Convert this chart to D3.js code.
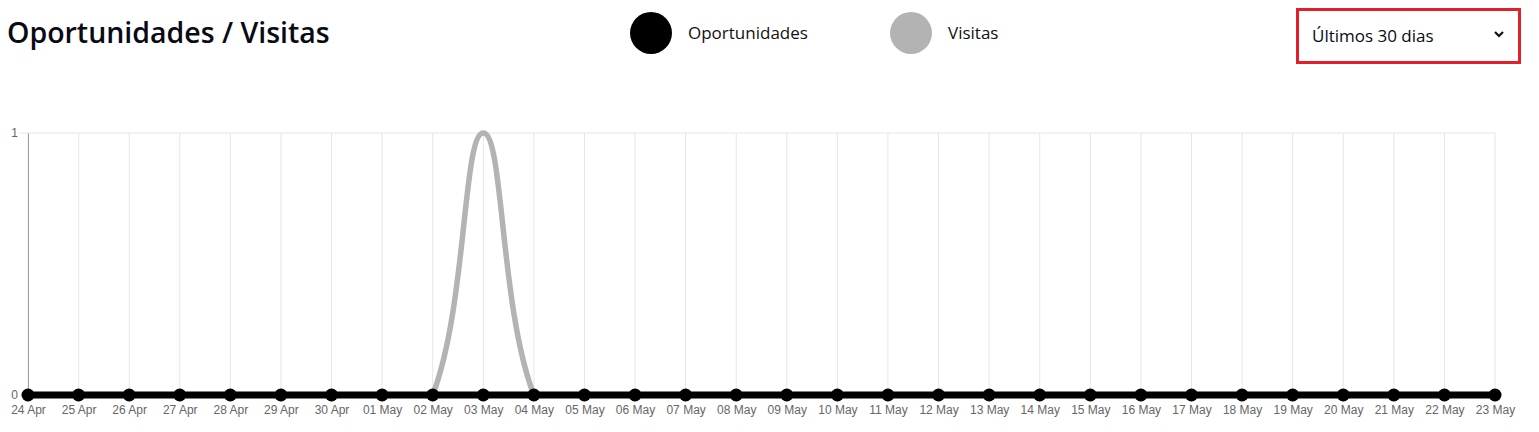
<!DOCTYPE html>
<html><head><meta charset="utf-8">
<script src="https://cdn.jsdelivr.net/npm/d3@7"></script>
<style>
html,body{margin:0;padding:0;background:#fff;}
svg{display:block;}
</style></head>
<body>
<svg id="c" width="1539" height="432"></svg>
<script>
const dates = ["24 Apr","25 Apr","26 Apr","27 Apr","28 Apr","29 Apr","30 Apr","01 May","02 May","03 May","04 May","05 May","06 May","07 May","08 May","09 May","10 May","11 May","12 May","13 May","14 May","15 May","16 May","17 May","18 May","19 May","20 May","21 May","22 May","23 May"];
const oportunidades = [0,0,0,0,0,0,0,0,0,0,0,0,0,0,0,0,0,0,0,0,0,0,0,0,0,0,0,0,0,0];
const visitas =       [0,0,0,0,0,0,0,0,0,1,0,0,0,0,0,0,0,0,0,0,0,0,0,0,0,0,0,0,0,0];
const yTicks = [0, 1];
const seriesNames = ["Oportunidades", "Visitas"];
const seriesColors = ["#000000", "#b3b3b3"];

const svg = d3.select("#c");
const m = {left: 28, right: 1495, top: 133, bottom: 395};

const x = d3.scalePoint().domain(dates).range([m.left, m.right]);
const y = d3.scaleLinear().domain([0, 1]).range([m.bottom, m.top]);

// Chart.js-like spline curve (tension 0.4, control points capped to chart area)
function chartSpline(tension, area) {
  return function(context) {
    let pts;
    return {
      areaStart(){}, areaEnd(){},
      lineStart(){ pts = []; },
      point(px, py){ pts.push({x:+px, y:+py}); },
      lineEnd(){
        const n = pts.length;
        if (!n) return;
        const cps = pts.map((c, i) => {
          const p = pts[i-1] || c, nx = pts[i+1] || c;
          const d01 = Math.hypot(c.x-p.x, c.y-p.y), d12 = Math.hypot(nx.x-c.x, nx.y-c.y);
          let s01 = d01/(d01+d12), s12 = d12/(d01+d12);
          if (isNaN(s01)) s01 = 0; if (isNaN(s12)) s12 = 0;
          const fa = tension*s01, fb = tension*s12;
          const cap = (q) => ({x: Math.max(area.left, Math.min(area.right, q.x)), y: Math.max(area.top, Math.min(area.bottom, q.y))});
          return {
            prev: cap({x: c.x - fa*(nx.x-p.x), y: c.y - fa*(nx.y-p.y)}),
            next: cap({x: c.x + fb*(nx.x-p.x), y: c.y + fb*(nx.y-p.y)})
          };
        });
        context.moveTo(pts[0].x, pts[0].y);
        for (let i = 1; i < n; i++) {
          context.bezierCurveTo(cps[i-1].next.x, cps[i-1].next.y, cps[i].prev.x, cps[i].prev.y, pts[i].x, pts[i].y);
        }
      }
    };
  };
}
const curve = chartSpline(0.4, m);

// Title
svg.append("text").attr("x", 7).attr("y", 43)
  .attr("font-family", "Open Sans").attr("font-weight", 600).attr("font-size", 28.5)
  .attr("fill", "#0a0a14").text("Oportunidades / Visitas");

// Legend
const legendX = [651, 911];
seriesNames.forEach((s, i) => {
  svg.append("circle").attr("cx", legendX[i]).attr("cy", 33).attr("r", 21).attr("fill", seriesColors[i]);
  svg.append("text").attr("x", legendX[i] + 37).attr("y", 39)
    .attr("font-family", "Open Sans").attr("font-size", 17).attr("fill", "#111").text(s);
});

// Dropdown
svg.append("rect").attr("x", 1297.5).attr("y", 9.5).attr("width", 222).attr("height", 53)
  .attr("fill", "#fff").attr("stroke", "#e3202a").attr("stroke-width", 3);
svg.append("text").attr("x", 1312).attr("y", 42)
  .attr("font-family", "Open Sans").attr("font-weight", 500).attr("font-size", 17)
  .attr("fill", "#0a0a14").text("Últimos 30 dias");
svg.append("path").attr("d", "M1495,32 L1499,36 L1503,32").attr("fill", "none")
  .attr("stroke", "#111").attr("stroke-width", 2.2);

// Gridlines
const grid = svg.append("g");
grid.selectAll("line.v").data(dates).join("line")
  .attr("x1", d => x(d)).attr("x2", d => x(d))
  .attr("y1", m.top).attr("y2", m.bottom + 7)
  .attr("stroke", "#e6e6e6").attr("stroke-width", 1);
grid.selectAll("line.h").data(yTicks).join("line")
  .attr("x1", m.left - 8).attr("x2", m.right)
  .attr("y1", d => y(d)).attr("y2", d => y(d))
  .attr("stroke", "#e6e6e6").attr("stroke-width", 1);

// Axes
const yAxis = svg.append("g").attr("transform", `translate(${m.left},0)`)
  .call(d3.axisLeft(y).tickValues(yTicks).tickFormat(d3.format("d")).tickSize(0).tickPadding(10));
yAxis.select(".domain").attr("stroke", "#a0a0a0");
yAxis.selectAll("text").attr("font-family", "Liberation Sans, Arial").attr("font-size", 12).attr("fill", "#666").attr("dy", "0.32em");

const xAxis = svg.append("g").attr("transform", `translate(0,${m.bottom})`)
  .call(d3.axisBottom(x).tickSize(0).tickPadding(10));
xAxis.select(".domain").remove();
xAxis.selectAll("text").attr("font-family", "Liberation Sans, Arial").attr("font-size", 12).attr("fill", "#666");

// Lines
const line = d3.line().x((d, i) => x(dates[i])).y(d => y(d)).curve(curve);
svg.append("path").datum(visitas).attr("d", line).attr("fill", "none")
  .attr("stroke", seriesColors[1]).attr("stroke-width", 5.5).attr("stroke-linecap", "round");
svg.append("path").datum(oportunidades).attr("d", line).attr("fill", "none")
  .attr("stroke", seriesColors[0]).attr("stroke-width", 7);
svg.append("g").selectAll("circle").data(oportunidades).join("circle")
  .attr("cx", (d, i) => x(dates[i])).attr("cy", d => y(d)).attr("r", 6.5).attr("fill", seriesColors[0]);
</script>
</body></html>
